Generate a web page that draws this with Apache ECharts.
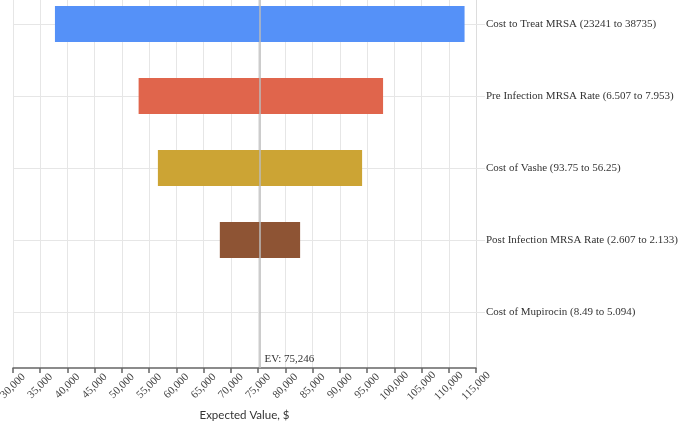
<!DOCTYPE html>
<html>
<head>
<meta charset="utf-8">
<script src="https://cdn.jsdelivr.net/npm/echarts@6/dist/echarts.min.js"></script>
<style>
  html, body { margin: 0; padding: 0; background: #fff; }
  #chart { width: 679px; height: 425px; }
</style>
</head>
<body>
<div id="chart"></div>
<script>
const categories = [
  'Cost to Treat MRSA (23241 to 38735)',
  'Pre Infection MRSA Rate (6.507 to 7.953)',
  'Cost of Vashe (93.75 to 56.25)',
  'Post Infection MRSA Rate (2.607 to 2.133)',
  'Cost of Mupirocin (8.49 to 5.094)'
];
const lowValues = [37700, 53060, 56600, 67970, 75246];
const highValues = [112900, 97940, 94090, 82710, 75246];
const barColors = ['#5591F8', '#E0654C', '#CCA434', '#8E5434', '#999999'];
const expectedValue = 75246;

const serif = '"Liberation Serif", "DejaVu Serif", serif';

let chart = echarts.init(document.getElementById('chart'));

const rows = categories.map((c, i) => [i, lowValues[i], highValues[i]]);

const option = {
  animation: false,
  grid: { left: 13, right: 203, top: 0, bottom: 57, containLabel: false, outerBoundsMode: 'none' },
  xAxis: {
    type: 'value',
    min: 30000,
    max: 115000,
    interval: 5000,
    name: 'Expected Value, $',
    nameLocation: 'middle',
    nameGap: 41,
    nameTextStyle: { fontFamily: 'Lato', fontSize: 11.5, color: '#333' },
    axisLine: { show: true, onZero: false, lineStyle: { color: '#666', width: 1.5 } },
    axisTick: { show: true, length: 5, lineStyle: { color: '#666', width: 1.5 } },
    axisLabel: {
      rotate: 45,
      margin: 18,
      align: 'center',
      verticalAlign: 'middle',
      fontFamily: serif,
      fontSize: 11,
      color: '#444',
      hideOverlap: false,
      formatter: (v) => v.toLocaleString('en-US')
    },
    splitLine: { show: true, lineStyle: { color: '#e6e6e6' } }
  },
  yAxis: {
    type: 'value',
    position: 'right',
    inverse: true,
    min: -1 / 3,
    max: 4 + 56 / 72,
    axisLine: { show: true, onZero: false, lineStyle: { color: '#dddddd' } },
    axisTick: {
      show: true,
      length: 9,
      customValues: [0, 1, 2, 3, 4],
      lineStyle: { color: '#e6e6e6' }
    },
    axisLabel: {
      margin: 10,
      customValues: [0, 1, 2, 3, 4],
      fontFamily: serif,
      fontSize: 11,
      color: '#333',
      formatter: (v) => categories[Math.round(v)] || ''
    },
    splitLine: { show: true, lineStyle: { color: '#e6e6e6' } }
  },
  series: [
    {
      type: 'custom',
      data: rows,
      encode: { x: [1, 2], y: 0 },
      renderItem: function (params, api) {
        const idx = api.value(0);
        const start = api.coord([api.value(1), idx]);
        const end = api.coord([api.value(2), idx]);
        const h = api.size([0, 0.5])[1];
        return {
          type: 'rect',
          shape: { x: start[0], y: start[1] - h / 2, width: end[0] - start[0], height: h },
          style: { fill: barColors[idx] }
        };
      },
      z: 2
    },
    {
      type: 'line',
      data: [],
      z: 3,
      markLine: {
        silent: true,
        symbol: 'none',
        animation: false,
        lineStyle: { color: '#bbbbbb', width: 1.5, type: 'solid' },
        label: { show: false },
        data: [{ xAxis: expectedValue }]
      },
      markPoint: {
        silent: true,
        symbolSize: 0,
        animation: false,
        label: {
          show: true,
          position: 'right',
          distance: 5,
          fontFamily: serif,
          fontSize: 11,
          color: '#333',
          formatter: 'EV: ' + expectedValue.toLocaleString('en-US')
        },
        data: [{ coord: [expectedValue, 4.653] }]
      }
    }
  ]
};

chart.setOption(option);
</script>
</body>
</html>
